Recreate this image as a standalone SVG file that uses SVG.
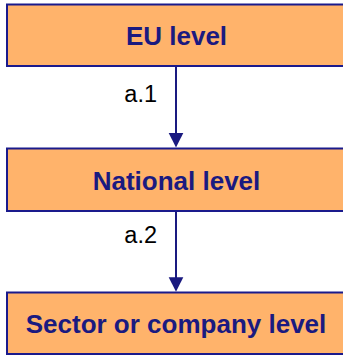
<svg xmlns="http://www.w3.org/2000/svg" width="343" height="355" viewBox="0 0 343 355">
  <style>
    .box { fill: #FFB36B; stroke: #1A1A8C; stroke-width: 2; }
    .title { font-family: "Liberation Sans", Arial, sans-serif; font-weight: bold; font-size: 26px; fill: #1A1A80; text-anchor: middle; }
    .label { font-family: "Liberation Sans", Arial, sans-serif; font-size: 23.5px; fill: #000000; text-anchor: end; }
    .link { stroke: #1A1A80; stroke-width: 2; fill: none; }
    .head { fill: #1A1A80; }
  </style>
  <rect width="343" height="355" fill="#FFFFFF"/>

  <!-- connectors between levels -->
  <g id="connectors">
    <line class="link" x1="176" y1="66" x2="176" y2="134"/>
    <polygon class="head" points="168.7,133 183.3,133 176,147.5"/>
    <text class="label" x="157" y="102">a.1</text>

    <line class="link" x1="176" y1="211" x2="176" y2="278"/>
    <polygon class="head" points="168.7,277.3 183.3,277.3 176,291.8"/>
    <text class="label" x="157" y="243">a.2</text>
  </g>

  <g id="eu-level">
    <rect class="box" x="7" y="4.5" width="340" height="61.5"/>
    <text class="title" x="176.5" y="45">EU level</text>
  </g>

  <g id="national-level">
    <rect class="box" x="7" y="148.5" width="340" height="62.5"/>
    <text class="title" x="176.5" y="190">National level</text>
  </g>

  <g id="sector-level">
    <rect class="box" x="7" y="292.5" width="340" height="61.5"/>
    <text class="title" x="176" y="332.5">Sector or company level</text>
  </g>
</svg>
